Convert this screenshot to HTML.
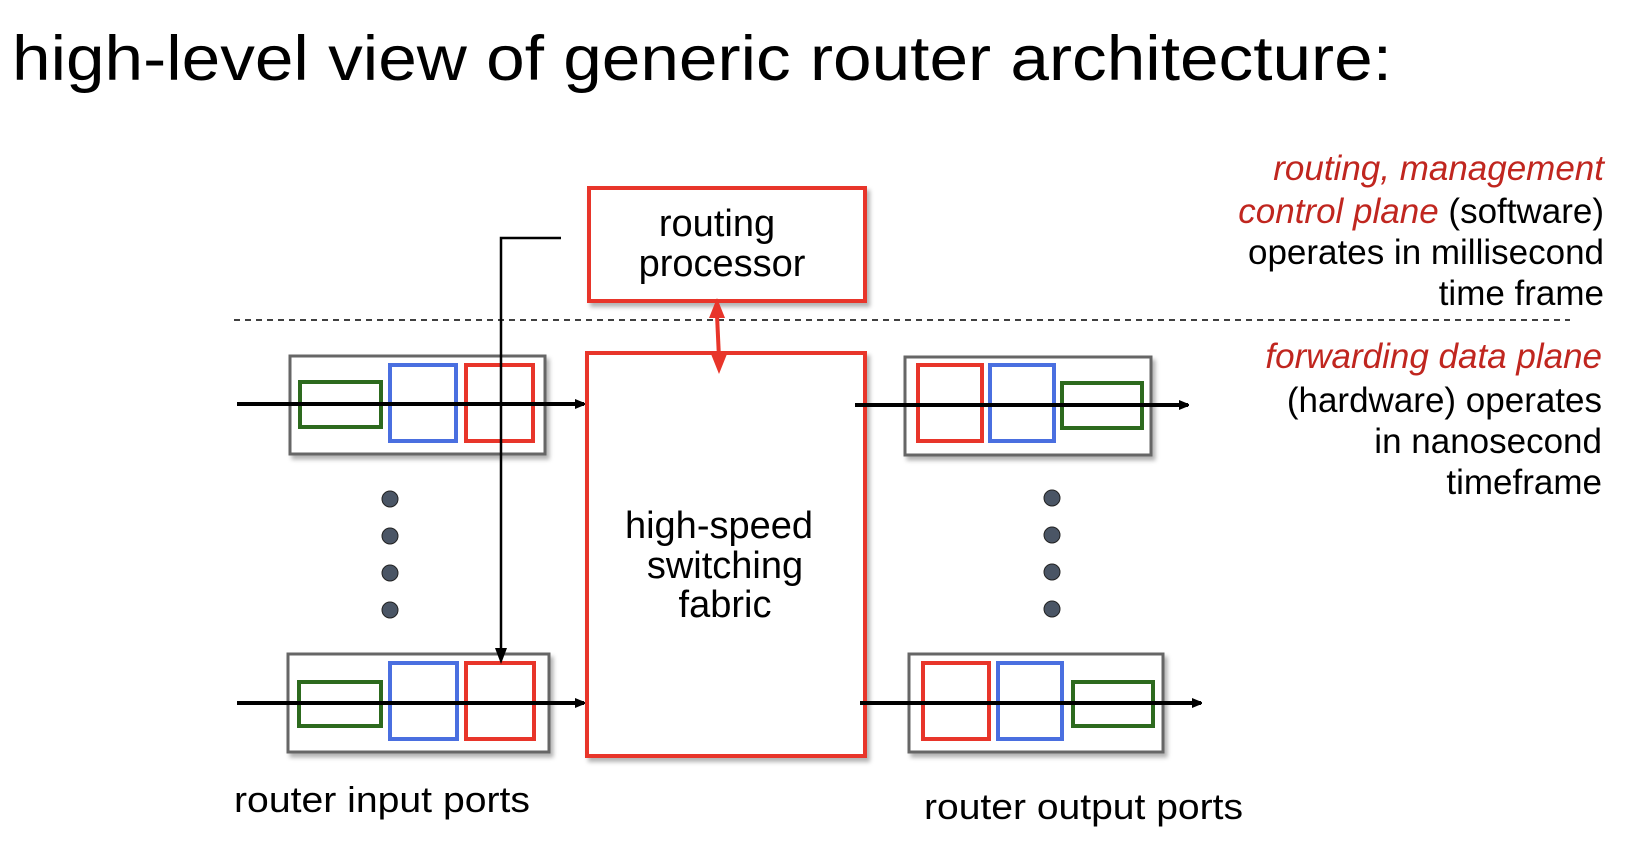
<!DOCTYPE html>
<html><head><style>
body{margin:0;width:1648px;height:854px;background:#fff;overflow:hidden;font-family:"Liberation Sans",sans-serif;}
</style></head><body>
<svg width="1648" height="854" xmlns="http://www.w3.org/2000/svg" font-family="Liberation Sans, sans-serif">
<defs>
<filter id="sh" x="-10%" y="-10%" width="130%" height="130%"><feDropShadow dx="3" dy="4" stdDeviation="2" flood-color="#000" flood-opacity="0.3"/></filter>
<marker id="ah" markerWidth="10" markerHeight="10" refX="9" refY="5" orient="auto" markerUnits="userSpaceOnUse"><path d="M0,0 L12,5 L0,10 z" fill="#000"/></marker>
</defs>
<text x="12" y="80" font-size="63" textLength="1380" lengthAdjust="spacingAndGlyphs">high-level view of generic router architecture:</text>

<line x1="234" y1="320" x2="1570" y2="320" stroke="#000" stroke-width="1.5" stroke-dasharray="6,5"/>

<rect x="589" y="188" width="276" height="113" fill="#fff" stroke="#e8352a" stroke-width="4" filter="url(#sh)"/>
<text x="717" y="236" font-size="38" text-anchor="middle">routing</text>
<text x="722" y="276" font-size="38" text-anchor="middle">processor</text>

<rect x="587" y="353" width="278" height="403" fill="#fff" stroke="#e8352a" stroke-width="4" filter="url(#sh)"/>
<text x="719" y="538" font-size="38" text-anchor="middle">high-speed</text>
<text x="725" y="578" font-size="38" text-anchor="middle">switching</text>
<text x="725" y="617" font-size="38" text-anchor="middle">fabric</text>

<line x1="717" y1="315" x2="719" y2="358" stroke="#e8352a" stroke-width="4"/>
<path d="M717,298 L709,318 L725,318 z" fill="#e8352a"/>
<path d="M719,374 L711,354 L727,354 z" fill="#e8352a"/>

<g filter="url(#sh)"><rect x="290" y="356" width="255" height="98" fill="#fff" stroke="#666" stroke-width="3"/></g>
<rect x="300" y="382" width="81" height="45" fill="none" stroke="#2d6a1e" stroke-width="4"/>
<rect x="390" y="365" width="66" height="76" fill="none" stroke="#4a6fe0" stroke-width="4"/>
<rect x="466" y="365" width="67" height="76" fill="none" stroke="#e8352a" stroke-width="4"/>
<line x1="237" y1="404" x2="584" y2="404" stroke="#000" stroke-width="4" marker-end="url(#ah)"/>

<g filter="url(#sh)"><rect x="288" y="654" width="261" height="98" fill="#fff" stroke="#666" stroke-width="3"/></g>
<rect x="299" y="682" width="82" height="44" fill="none" stroke="#2d6a1e" stroke-width="4"/>
<rect x="390" y="663" width="67" height="76" fill="none" stroke="#4a6fe0" stroke-width="4"/>
<rect x="466" y="663" width="68" height="76" fill="none" stroke="#e8352a" stroke-width="4"/>
<line x1="237" y1="703" x2="584" y2="703" stroke="#000" stroke-width="4" marker-end="url(#ah)"/>

<g filter="url(#sh)"><rect x="905" y="357" width="246" height="98" fill="#fff" stroke="#666" stroke-width="3"/></g>
<rect x="918" y="365" width="64" height="76" fill="none" stroke="#e8352a" stroke-width="4"/>
<rect x="990" y="365" width="64" height="76" fill="none" stroke="#4a6fe0" stroke-width="4"/>
<rect x="1062" y="383" width="80" height="45" fill="none" stroke="#2d6a1e" stroke-width="4"/>
<line x1="855" y1="405" x2="1188" y2="405" stroke="#000" stroke-width="4" marker-end="url(#ah)"/>

<g filter="url(#sh)"><rect x="909" y="654" width="254" height="98" fill="#fff" stroke="#666" stroke-width="3"/></g>
<rect x="923" y="663" width="66" height="76" fill="none" stroke="#e8352a" stroke-width="4"/>
<rect x="998" y="663" width="64" height="76" fill="none" stroke="#4a6fe0" stroke-width="4"/>
<rect x="1073" y="682" width="80" height="44" fill="none" stroke="#2d6a1e" stroke-width="4"/>
<line x1="860" y1="703" x2="1201" y2="703" stroke="#000" stroke-width="4" marker-end="url(#ah)"/>

<polyline points="561,238 501,238 501,660" fill="none" stroke="#000" stroke-width="2.5"/>
<path d="M501,664 L495,648 L507,648 z" fill="#000"/>

<g fill="#4a5565" stroke="#222" stroke-width="1">
<circle cx="390" cy="499" r="8"/><circle cx="390" cy="536" r="8"/><circle cx="390" cy="573" r="8"/><circle cx="390" cy="610" r="8"/>
<circle cx="1052" cy="498" r="8"/><circle cx="1052" cy="535" r="8"/><circle cx="1052" cy="572" r="8"/><circle cx="1052" cy="609" r="8"/>
</g>

<text x="234" y="812" font-size="36" textLength="296" lengthAdjust="spacingAndGlyphs">router input ports</text>
<text x="924" y="819" font-size="36" textLength="319" lengthAdjust="spacingAndGlyphs">router output ports</text>

<g font-size="35" text-anchor="end">
<text x="1604" y="180" fill="#c0261f" font-style="italic">routing, management</text>
<text x="1604" y="223"><tspan fill="#c0261f" font-style="italic">control plane</tspan> (software)</text>
<text x="1604" y="264">operates in millisecond</text>
<text x="1604" y="305">time frame</text>
<text x="1602" y="368" fill="#c0261f" font-style="italic">forwarding data plane</text>
<text x="1602" y="412">(hardware) operates</text>
<text x="1602" y="453">in nanosecond</text>
<text x="1602" y="494">timeframe</text>
</g>
</svg>
</body></html>
